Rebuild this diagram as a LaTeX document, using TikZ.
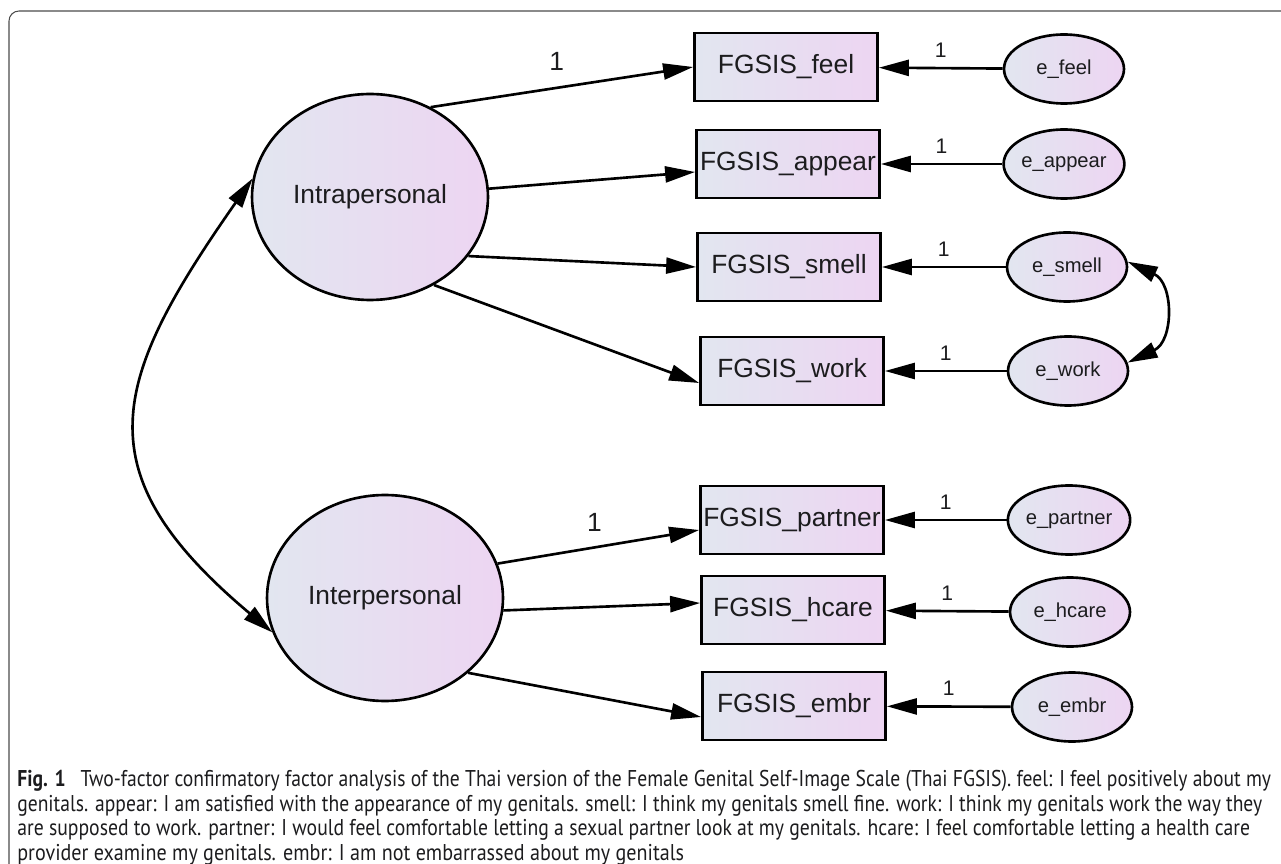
\documentclass[tikz,border=0pt]{standalone}
\usepackage{fontspec}
\setmainfont{Liberation Sans}
\newfontfamily\capfont{PT Sans}
\usepackage{graphicx}
\usepackage{xcolor}
\usepackage{tikz}
\usetikzlibrary{arrows.meta,shapes}
\definecolor{shadeL}{RGB}{226,230,240}
\definecolor{shadeR}{RGB}{237,213,242}
\definecolor{ink}{RGB}{28,28,30}
\newcommand{\capline}[2]{\resizebox{#1}{\height}{#2}}
\tikzset{latent/.style={shape=ellipse,draw,line width=1.5pt,left color=shadeL,right color=shadeR,minimum width=4.72cm,minimum height=4.12cm,inner sep=0pt,text=ink,font=\fontsize{15}{18}\selectfont}}
\tikzset{observed/.style={shape=rectangle,draw,line width=1.6pt,left color=shadeL,right color=shadeR,minimum width=3.66cm,minimum height=1.36cm,inner sep=0pt,text=ink,font=\fontsize{15}{18}\selectfont}}
\tikzset{errnode/.style={shape=ellipse,draw,line width=1.5pt,left color=shadeL,right color=shadeR,minimum width=2.4cm,minimum height=1.38cm,inner sep=0pt,text=ink,font=\fontsize{11.5}{14}\selectfont}}
\tikzset{errlab/.style={above=2pt,text=ink,font=\fontsize{12}{14}\selectfont}}
\tikzset{loadlab/.style={text=ink,font=\fontsize{15}{18}\selectfont}}

\begin{document}
\begin{tikzpicture}[x=0.02cm,y=0.02cm,line width=1.5pt,>={Triangle[length=0.6cm,width=0.32cm]}]
	\useasboundingbox (0,0) rectangle (1281,-864);
	\draw[gray!60!black,line width=0.6pt,rounded corners=0.2cm] (1281,-11) -- (9,-11) -- (9,-864);
	%
	\node[latent] (intra) at (370,-197) {Intrapersonal};
	\node[latent] (inter) at (385,-598) {Interpersonal};
	%
	\node[observed] (feel) at (786,-67) {FGSIS\_feel};
	\node[observed] (appear) at (788,-164) {FGSIS\_appear};
	\node[observed] (smell) at (789,-267) {FGSIS\_smell};
	\node[observed] (work) at (792,-371) {FGSIS\_work};
	\node[observed] (partner) at (792,-520) {FGSIS\_partner};
	\node[observed] (hcare) at (793,-610) {FGSIS\_hcare};
	\node[observed] (embr) at (794,-706) {FGSIS\_embr};
	%
	\node[errnode] (efeel) at (1064,-69) {e\_feel};
	\node[errnode] (eappear) at (1064,-164) {e\_appear};
	\node[errnode] (esmell) at (1067,-267) {e\_smell};
	\node[errnode] (ework) at (1068,-371) {e\_work};
	\node[errnode] (epartner) at (1069,-520) {e\_partner};
	\node[errnode] (ehcare) at (1070,-612) {e\_hcare};
	\node[errnode] (eembr) at (1072,-707) {e\_embr};
	%
	\draw [->] (intra.56) -- node[loadlab,above=6pt,pos=0.48]{1} (feel.west);
	\draw [->] (intra.4) -- ([yshift=-0.16cm]appear.west);
	\draw [->] (intra.-31) -- (smell.west);
	\draw [->] (intra.-54) -- ([yshift=-0.24cm]work.west);
	\draw [->] (inter.17) -- node[loadlab,above=5pt,pos=0.48]{1} ([yshift=-0.2cm]partner.west);
	\draw [->] (inter.-6) -- ([yshift=0.14cm]hcare.west);
	\draw [->] (inter.-42) -- ([yshift=-0.22cm]embr.west);
	%
	\draw [->] (efeel) -- node[errlab]{1} (feel);
	\draw [->] (eappear) -- node[errlab]{1} (appear);
	\draw [->] (esmell) -- node[errlab]{1} (smell);
	\draw [->] (ework) -- node[errlab]{1} (work);
	\draw [->] (epartner) -- node[errlab]{1} (partner);
	\draw [->] (ehcare) -- node[errlab]{1} (hcare);
	\draw [->] (eembr) -- node[errlab]{1} (embr);
	%
	\draw [<->] (intra.171) to[out=235,in=140,looseness=1.4] (inter.197);
	\draw [<->] (esmell.5) to[out=-25,in=25,looseness=1.3] (ework.8);
	%
	\node[anchor=north west,inner sep=0pt,align=left,text=ink,font=\capfont\fontsize{13}{14}\selectfont] (caption) at (16,-769)
	{\capline{25.08cm}{\textbf{Fig. 1}\hspace{0.5em} Two-factor confirmatory factor analysis of the Thai version of the Female Genital Self-Image Scale (Thai FGSIS). feel: I feel positively about my}\\
	\capline{24.9cm}{genitals. appear: I am satisfied with the appearance of my genitals. smell: I think my genitals smell fine. work: I think my genitals work the way they}\\
	\capline{24.66cm}{are supposed to work. partner: I would feel comfortable letting a sexual partner look at my genitals. hcare: I feel comfortable letting a health care}\\
	\capline{13.34cm}{provider examine my genitals. embr: I am not embarrassed about my genitals}};
\end{tikzpicture}
\end{document}
